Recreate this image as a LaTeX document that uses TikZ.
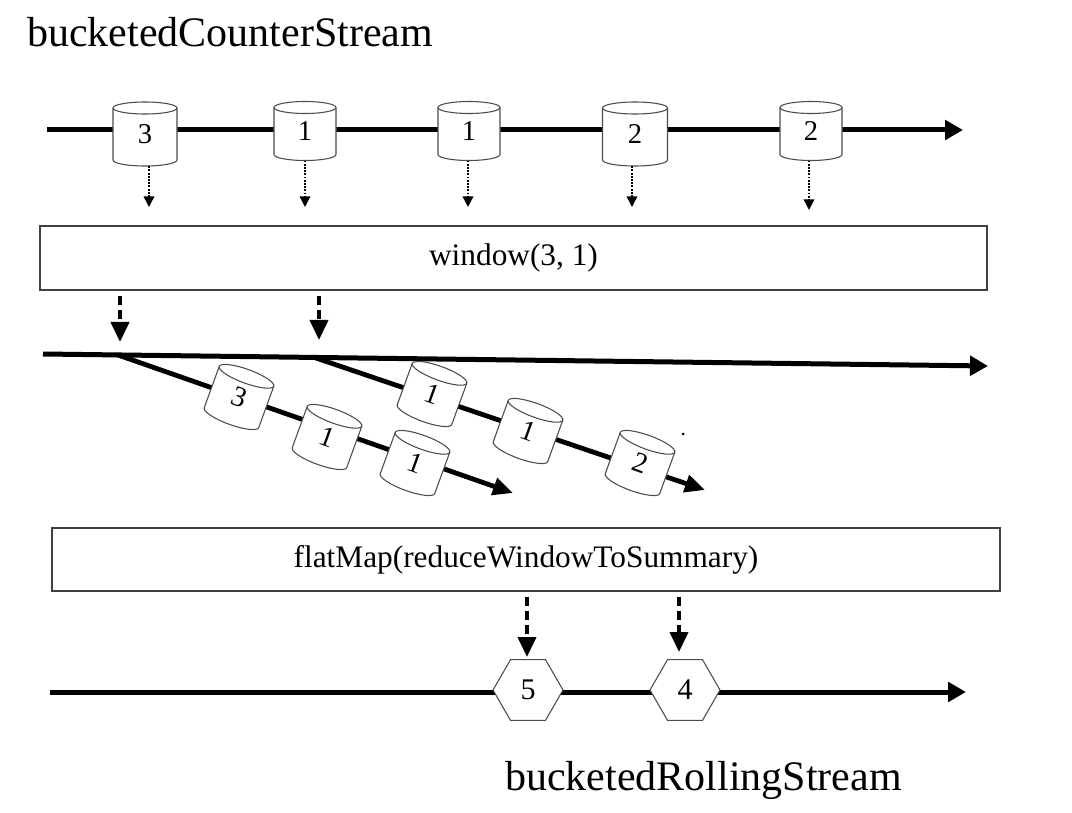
\documentclass[tikz,border=0pt]{standalone}
\usepackage{fontspec}
\setmainfont{Liberation Serif}
\usetikzlibrary{arrows.meta,shapes.geometric}
\begin{document}
\begin{tikzpicture}[x=0.75pt,y=0.75pt,
  stream/.style={line width=3.75pt,-{Triangle[length=13.5pt,width=14.5pt]}},
  branch/.style={line width=3.6pt,-{Triangle[length=15pt,width=13pt]}},
  dotarr/.style={line width=1.1pt,dash pattern=on 1.4pt off 1pt,-{Triangle[length=8pt,width=8pt]}},
  dasharr/.style={line width=3pt,dash pattern=on 7pt off 3.5pt,dash phase=7pt,-{Triangle[length=15pt,width=13.5pt]}},
  canline/.style={draw=black!70,line width=0.8pt,fill=white},
  canlabel/.style={inner sep=0pt,font=\fontsize{21.5}{24}\selectfont},
  tiltlabel/.style={inner sep=0pt,rotate=-20,font=\fontsize{21.5}{24}\selectfont},
  opbox/.style={draw=black!75,line width=1.5pt,fill=white,inner sep=0pt,font=\fontsize{23.5}{28}\selectfont},
  hexa/.style={regular polygon,regular polygon sides=6,minimum size=52.5pt,draw=black!70,line width=0.8pt,fill=white,inner sep=0pt,font=\fontsize{22.5}{26}\selectfont},
  titletext/.style={anchor=base west,inner sep=0pt,font=\fontsize{31.5}{36}\selectfont},
  pics/can/.style n args={3}{code={
    \path[canline] (-#1,#2) -- (-#1,-#2) arc[start angle=180,end angle=360,x radius=#1,y radius=#3]
      -- (#1,#2) arc[start angle=0,end angle=180,x radius=#1,y radius=#3] -- cycle;
    \draw[canline,fill=none] (-#1,#2) arc[start angle=180,end angle=360,x radius=#1,y radius=#3];
  }}
]
\useasboundingbox (0,0) rectangle (1072,-813);
\fill[white] (0,0) rectangle (1072,-813);

% title
\node[titletext] (title) at (27,-47) {bucketedCounterStream};

% top stream
\coordinate (s0) at (47,-130);
\coordinate (s1) at (963,-130);
\draw[stream] (s0) -- (s1);

\pic at (145,-134) {can={32}{26}{6}};
\node[canlabel,minimum width=48pt,minimum height=48pt] (c1) at (145,-134) {3};
\pic at (305,-131) {can={31}{23.5}{6}};
\node[canlabel,minimum width=46.5pt,minimum height=44pt] (c2) at (305,-131) {1};
\pic at (469,-131) {can={31}{23.5}{6}};
\node[canlabel,minimum width=46.5pt,minimum height=44pt] (c3) at (469,-131) {1};
\pic at (635,-134) {can={32.5}{26}{6}};
\node[canlabel,minimum width=48.75pt,minimum height=48pt] (c4) at (635,-134) {2};
\pic at (811,-131) {can={31}{23.5}{6}};
\node[canlabel,minimum width=46.5pt,minimum height=44pt] (c5) at (811,-131) {2};

\coordinate (t1) at (149,-207);
\coordinate (t2) at (305,-207);
\coordinate (t3) at (468,-207);
\coordinate (t4) at (632,-207);
\coordinate (t5) at (809,-210);
\draw[dotarr] (c1.south -| t1) -- (t1);
\draw[dotarr] (c2.south -| t2) -- (t2);
\draw[dotarr] (c3.south -| t3) -- (t3);
\draw[dotarr] (c4.south -| t4) -- (t4);
\draw[dotarr] (c5.south -| t5) -- (t5);

% window box
\node[opbox,minimum width=710.25pt,minimum height=48pt] (win) at (513.5,-258) {window(3, 1)};

\coordinate (w1) at (120,-342);
\coordinate (w2) at (319,-340);
\draw[dasharr] (win.south -| w1) -- (w1);
\draw[dasharr] (win.south -| w2) -- (w2);

% windowed stream
\coordinate (m0) at (43,-354);
\coordinate (m1) at (988,-366);
\draw[stream] (m0) -- (m1);
\coordinate (b1) at (118,-355);
\coordinate (b1e) at (513,-493);
\coordinate (b2) at (313,-357);
\coordinate (b2e) at (705,-490);
\draw[branch] (b1) -- (b1e);
\draw[branch] (b2) -- (b2e);

\pic[rotate=-20] at (239,-397) {can={29}{22}{7}};
\node[tiltlabel,minimum width=43.5pt,minimum height=43.5pt] (d1) at (239,-397) {3};
\pic[rotate=-20] at (327,-437) {can={29}{22}{7}};
\node[tiltlabel,minimum width=43.5pt,minimum height=43.5pt] (d2) at (327,-437) {1};
\pic[rotate=-20] at (415,-463) {can={29}{22}{7}};
\node[tiltlabel,minimum width=43.5pt,minimum height=43.5pt] (d3) at (415,-463) {1};
\pic[rotate=-20] at (432,-394) {can={29}{22}{7}};
\node[tiltlabel,minimum width=43.5pt,minimum height=43.5pt] (e1) at (432,-394) {1};
\pic[rotate=-20] at (528,-431) {can={29}{22}{7}};
\node[tiltlabel,minimum width=43.5pt,minimum height=43.5pt] (e2) at (528,-431) {1};
\pic[rotate=-20] at (640,-463) {can={29}{22}{7}};
\node[tiltlabel,minimum width=43.5pt,minimum height=43.5pt] (e3) at (640,-463) {2};

\fill[black] (683,-434) circle[radius=1.5];

% flatMap box
\node[opbox,minimum width=711pt,minimum height=47.25pt] (fm) at (526,-559.5) {flatMap(reduceWindowToSummary)};

\coordinate (f1) at (527,-657);
\coordinate (f2) at (679,-652);
\draw[dasharr] (fm.south -| f1) -- (f1);
\draw[dasharr] (fm.south -| f2) -- (f2);

% result stream
\coordinate (r0) at (50,-692);
\coordinate (r1) at (966,-692);
\draw[stream] (r0) -- (r1);
\node[hexa] (h1) at (528,-690) {5};
\node[hexa] (h2) at (685,-690) {4};

\node[titletext] (out) at (505,-790) {bucketedRollingStream};
\end{tikzpicture}
\end{document}
